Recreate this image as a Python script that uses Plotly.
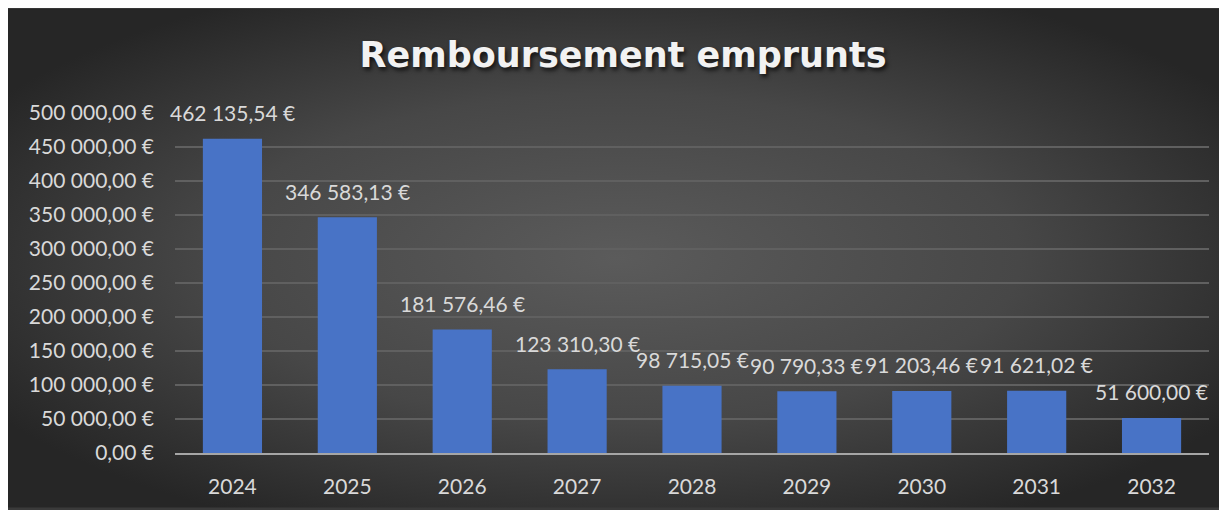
import plotly.graph_objects as go
import urllib.parse

years = ["2024", "2025", "2026", "2027", "2028", "2029", "2030", "2031", "2032"]
remboursements = [462135.54, 346583.13, 181576.46, 123310.30, 98715.05,
                  90790.33, 91203.46, 91621.02, 51600.00]
title_text = "Remboursement emprunts"

W, H = 1219, 502
L, R, T, B = 167, 18, 105, 55

svg = (
    '<svg xmlns="http://www.w3.org/2000/svg" width="1219" height="502" preserveAspectRatio="none">'
    '<defs><radialGradient id="g" cx="50%" cy="50%" r="60%">'
    '<stop offset="0%" stop-color="#5b5b5b"/>'
    '<stop offset="55%" stop-color="#474747"/>'
    '<stop offset="100%" stop-color="#262626"/>'
    '</radialGradient></defs>'
    '<rect width="1219" height="502" fill="url(#g)"/></svg>'
)
bg_uri = "data:image/svg+xml;charset=utf-8," + urllib.parse.quote(svg)

label_font = dict(family="Lato, Calibri, sans-serif", size=21, color="#d9d9d9")

fig = go.Figure()
fig.add_trace(go.Bar(
    x=years, y=remboursements,
    marker=dict(color="#4873c6", line=dict(width=0)),
    hoverinfo="skip",
))

for i, val in enumerate(remboursements):
    fig.add_annotation(
        x=i, y=val, xref="x", yref="y",
        text=f"{val:,.2f}".replace(",", " ").replace(".", ",") + " €",
        showarrow=False, yanchor="middle", xanchor="center", yshift=26,
        font=label_font,
    )

fig.update_layout(
    width=W, height=H,
    margin=dict(l=L, r=R, t=T, b=B),
    paper_bgcolor="#3a3a3a",
    plot_bgcolor="rgba(0,0,0,0)",
    separators=", ",
    bargap=0.485,
    showlegend=False,
    title=dict(
        text=title_text,
        x=0.5045, xref="container", xanchor="center",
        y=1 - 47 / H, yref="container", yanchor="middle",
        font=dict(family="DejaVu Sans, sans-serif", size=35,
                  color="#f2f2f2", weight="bold",
                  shadow="2px 3px 4px rgba(0,0,0,0.7)"),
    ),
    images=[dict(
        source=bg_uri, xref="paper", yref="paper",
        x=-L / (W - L - R), y=1 + T / (H - T - B),
        sizex=W / (W - L - R), sizey=H / (H - T - B),
        xanchor="left", yanchor="top", sizing="stretch", layer="below",
    )],
    font=label_font,
)

fig.update_yaxes(
    range=[0, 500000], dtick=50000,
    tickformat=",.2f", ticksuffix=" €",
    showgrid=True, gridcolor="#606060", gridwidth=1.5,
    zeroline=False, showline=False, ticks="",
    ticklabelstandoff=20,
    tickfont=label_font,
)
fig.update_xaxes(
    type="category",
    range=[-0.5, len(years) - 0.5],
    showline=True, linecolor="#a6a6a6", linewidth=2,
    ticks="", showgrid=False,
    tickfont=label_font,
    ticklabelstandoff=14,
)

fig.write_html("out.html")
